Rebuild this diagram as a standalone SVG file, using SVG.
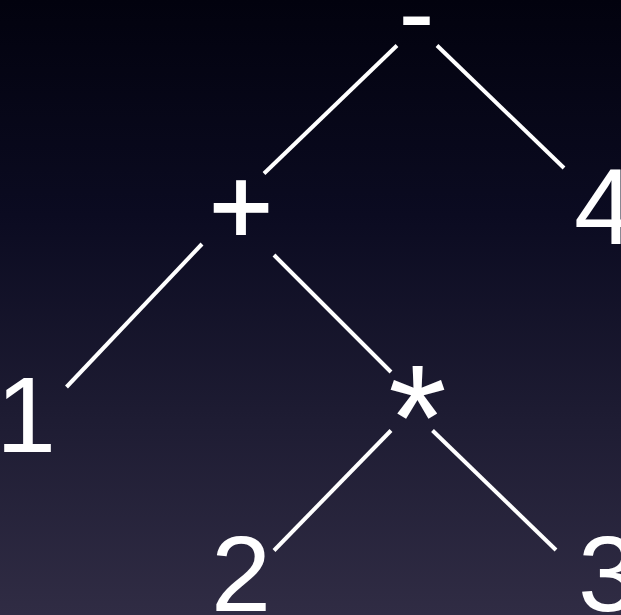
<svg xmlns="http://www.w3.org/2000/svg" width="621" height="615" viewBox="0 0 621 615">
  <defs>
    <linearGradient id="bg" x1="0" y1="0" x2="0" y2="1">
      <stop offset="0" stop-color="#02020e"/>
      <stop offset="0.35" stop-color="#0b0b21"/>
      <stop offset="1" stop-color="#302c44"/>
    </linearGradient>
    <style>
      .lbl { font-family: "Liberation Sans", Arial, sans-serif; font-size: 108px; fill: #ffffff; }
      .bold { stroke: #ffffff; stroke-width: 2; }
      .edge { stroke: #ffffff; stroke-width: 4; fill: none; }
    </style>
  </defs>
  <rect x="0" y="0" width="621" height="615" fill="url(#bg)"/>
  <g id="connectors">
    <line class="edge" x1="397" y1="45.5" x2="264" y2="173.5"/>
    <line class="edge" x1="437" y1="45.5" x2="564" y2="168"/>
    <line class="edge" x1="202" y1="244" x2="66.5" y2="387"/>
    <line class="edge" x1="274" y1="255" x2="391" y2="372"/>
    <line class="edge" x1="391" y1="430.5" x2="274" y2="550.5"/>
    <line class="edge" x1="432.5" y1="430.5" x2="556" y2="550"/>
  </g>
  <g id="node-minus"><text class="lbl" x="416.5" y="49" text-anchor="middle">-</text></g>
  <g id="node-plus"><text class="lbl bold" x="241" y="243" text-anchor="middle">+</text></g>
  <g id="node-4"><text class="lbl" x="574" y="244">4</text></g>
  <g id="node-1"><text class="lbl" x="-4" y="452">1</text></g>
  <g id="node-times"><text class="lbl" x="417.5" y="470" text-anchor="middle" style="font-size:150px">*</text></g>
  <g id="node-2"><text class="lbl" x="241" y="611" text-anchor="middle">2</text></g>
  <g id="node-3"><text class="lbl" x="578" y="611">3</text></g>
</svg>
